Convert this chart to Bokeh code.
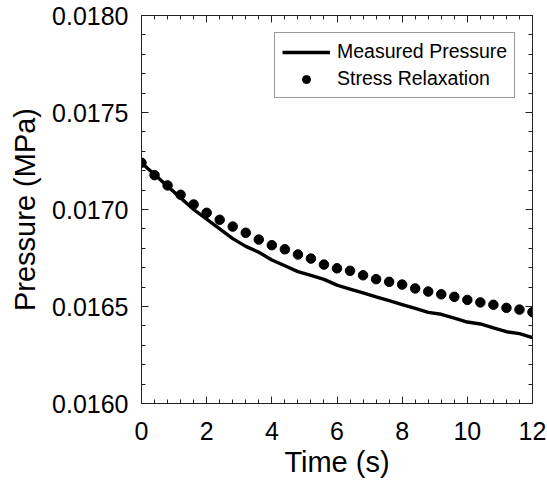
from bokeh.plotting import figure
from bokeh.models import FixedTicker, NumeralTickFormatter, LinearAxis, Range1d, Legend, LegendItem
from bokeh.embed import file_html
from bokeh.resources import INLINE

# Data
time_s = [0.0, 0.4, 0.8, 1.2, 1.6, 2.0, 2.4, 2.8, 3.2, 3.6, 4.0, 4.4, 4.8, 5.2, 5.6, 6.0,
          6.4, 6.8, 7.2, 7.6, 8.0, 8.4, 8.8, 9.2, 9.6, 10.0, 10.4, 10.8, 11.2, 11.6, 12.0]
measured_pressure = [0.01724, 0.01718, 0.01712, 0.01706, 0.01700, 0.01695, 0.01690, 0.01685,
                     0.01681, 0.01678, 0.01674, 0.01671, 0.01668, 0.01666, 0.01664, 0.01661,
                     0.01659, 0.01657, 0.01655, 0.01653, 0.01651, 0.01649, 0.01647, 0.01646,
                     0.01644, 0.01642, 0.01641, 0.01639, 0.01637, 0.01636, 0.01634]
stress_relaxation = [0.017241, 0.017177, 0.017124, 0.017076, 0.017026, 0.016983, 0.016947,
                     0.016912, 0.016880, 0.016845, 0.016816, 0.016795, 0.016768, 0.016747,
                     0.016716, 0.016697, 0.016684, 0.016661, 0.016641, 0.016627, 0.016613,
                     0.016593, 0.016577, 0.016563, 0.016550, 0.016534, 0.016521, 0.016509,
                     0.016493, 0.016484, 0.016471]
x_ticks = [0, 2, 4, 6, 8, 10, 12]
x_minor = [round(i * 0.4, 1) for i in range(31)]
y_ticks = [0.0160, 0.0165, 0.0170, 0.0175, 0.0180]
y_minor = [round(0.0160 + i * 0.0001, 4) for i in range(21)]

FONT = "Liberation Sans"

p = figure(width=547, height=490, output_backend="svg", toolbar_location=None,
           x_range=Range1d(0, 12), y_range=Range1d(0.0160, 0.0180),
           min_border_left=141, min_border_right=15, min_border_top=15, min_border_bottom=87,
           x_axis_label="Time (s)", y_axis_label="Pressure (MPa)")
p.grid.visible = False
p.outline_line_color = "#222222"
p.outline_line_width = 1
p.background_fill_color = "white"
p.border_fill_color = "white"

r_line = p.line(time_s, measured_pressure, line_color="black", line_width=3.4)
r_dots = p.scatter(time_s, stress_relaxation, size=9.5, fill_color="black", line_color="black")

def style(ax, ticker, labels=True):
    ax.ticker = ticker
    ax.axis_line_color = "#222222"
    ax.axis_line_width = 1
    ax.major_tick_in = 7
    ax.major_tick_out = 0
    ax.minor_tick_in = 4
    ax.minor_tick_out = 0
    ax.major_tick_line_color = "#222222"
    ax.minor_tick_line_color = "#222222"
    ax.major_tick_line_width = 1
    ax.minor_tick_line_width = 1
    ax.major_label_text_font = FONT
    ax.major_label_text_color = "black"
    ax.axis_label_text_font = FONT
    ax.axis_label_text_font_style = "normal"
    ax.axis_label_text_color = "black"
    if not labels:
        ax.major_label_text_font_size = "0px"
        ax.major_label_text_color = None

xa = p.xaxis[0]
style(xa, FixedTicker(ticks=x_ticks, minor_ticks=x_minor))
xa.major_label_text_font_size = "25px"
xa.major_label_standoff = 18
xa.axis_label_text_font_size = "29px"
xa.axis_label_standoff = 3

ya = p.yaxis[0]
style(ya, FixedTicker(ticks=y_ticks, minor_ticks=y_minor))
ya.formatter = NumeralTickFormatter(format="0.0000")
ya.major_label_text_font_size = "25px"
ya.major_label_standoff = 13
ya.axis_label_text_font_size = "29px"
ya.axis_label_standoff = 8

top = LinearAxis()
style(top, FixedTicker(ticks=x_ticks, minor_ticks=x_minor), labels=False)
p.add_layout(top, "above")
right = LinearAxis()
style(right, FixedTicker(ticks=y_ticks, minor_ticks=y_minor), labels=False)
p.add_layout(right, "right")

legend = Legend(items=[LegendItem(label="Measured Pressure", renderers=[r_line]),
                       LegendItem(label="Stress Relaxation", renderers=[r_dots])],
                location=(133, 305))
legend.label_text_font = FONT
legend.label_text_font_size = "19.5px"
legend.label_text_color = "black"
legend.glyph_width = 48
legend.glyph_height = 20
legend.label_height = 20
legend.spacing = 4
legend.padding = 7
legend.margin = 0
legend.label_standoff = 7
legend.border_line_color = "#333333"
legend.border_line_width = 1
legend.background_fill_alpha = 1
p.add_layout(legend, "center")

open("out.html", "w").write(file_html(p, INLINE))
